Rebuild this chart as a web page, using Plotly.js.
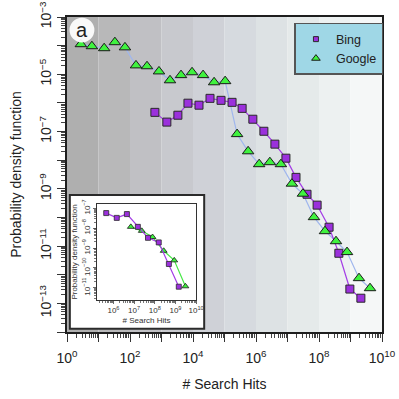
<!DOCTYPE html>
<html>
<head>
<meta charset="utf-8">
<script src="https://cdn.plot.ly/plotly-3.0.1.min.js"></script>
<style>
  html, body { margin: 0; padding: 0; background: #fff; }
  #chart { width: 399px; height: 399px; }
</style>
</head>
<body>
<div id="chart"></div>
<script>
'use strict';

// main panel, values as log10(hits), log10(pdf)
const bingLogHits = [2.79, 3.17, 3.52, 3.84, 4.19, 4.54, 4.89, 5.24, 5.56, 5.90,
    6.25, 6.60, 6.95, 7.27, 7.62, 7.94, 8.32, 8.63, 8.98, 9.33];
const bingLogPdf = [-6.33, -6.67, -6.43, -6.01, -6.08, -5.84, -5.91, -5.98, -6.19, -6.57,
    -6.99, -7.44, -7.93, -8.60, -9.19, -9.57, -10.34, -11.25, -12.50, -12.82];

const googleLogHits = [0.44, 0.79, 1.18, 1.52, 1.84, 2.19, 2.54, 2.92, 3.27, 3.62,
    3.97, 4.32, 4.67, 5.02, 5.40, 5.75, 6.10, 6.44, 6.79, 7.14,
    7.49, 7.84, 8.19, 8.54, 8.89, 9.27, 9.62];
const googleLogPdf = [-3.95, -4.02, -4.09, -3.88, -4.06, -4.69, -4.72, -4.90, -5.21, -5.03,
    -4.93, -5.03, -5.28, -5.24, -7.09, -7.69, -8.14, -8.07, -8.14, -8.82,
    -9.17, -9.99, -10.48, -10.83, -11.21, -12.12, -12.47];

// inset panel
const insetBingLogHits = [5.65, 6.16, 6.65, 7.18, 7.67, 8.19, 8.68, 9.16];
const insetBingLogPdf = [-7.25, -7.49, -7.30, -7.94, -8.49, -8.72, -9.80, -10.94];
const insetGoogleLogHits = [6.84, 7.37, 7.89, 8.43, 8.94, 9.48];
const insetGoogleLogPdf = [-7.94, -8.14, -8.45, -9.14, -9.62, -10.92];

// axis labels
const xLabelExp = [0, 2, 4, 6, 8, 10];
const yLabelExp = [-13, -11, -9, -7, -5, -3];
const insetXLabelExp = [6, 7, 8, 9, 10];
const insetYLabelExp = [-11, -10, -9, -8, -7];

const seriesNames = ['Bing', 'Google'];

// one shade per decade of the x axis
const bandColors = ['#afafaf', '#b8b8b9', '#c0c0c4', '#c8c9ce', '#cfd1d7',
    '#d6dadf', '#dde2e4', '#e5eaea', '#edf1f1', '#f5f7f7'];

const pow10 = v => Math.pow(10, v);
const sup = e => '10<sup>' + String(e).replace('-', '\u2212') + '</sup>';

function decadeTicks(lo, hi, labelled) {
    const vals = [], text = [], minor = [];
    for (let e = lo; e <= hi; e++) {
        vals.push(pow10(e));
        text.push(labelled.includes(e) ? sup(e) : '');
        if (e < hi) {
            for (let m = 2; m < 10; m++) minor.push(m * pow10(e));
        }
    }
    return { vals, text, minor };
}

const xt = decadeTicks(0, 10, xLabelExp);
const yt = decadeTicks(-14, -3, yLabelExp);
const ixt = decadeTicks(5, 10, insetXLabelExp);
const iyt = decadeTicks(-12, -6, insetYLabelExp);

const font = 'Liberation Sans, Arial, sans-serif';
const bingFill = '#9b30dc';
const googleFill = '#3ff23f';
const bingMarker = { symbol: 'square', color: bingFill, line: { color: '#2a2a2a', width: 1 } };
const googleMarker = { symbol: 'triangle-up', color: googleFill, line: { color: '#1a1a1a', width: 1 } };

const data = [
    {
        x: googleLogHits.map(pow10), y: googleLogPdf.map(pow10),
        mode: 'lines', line: { color: '#9fb6ee', width: 1.2 },
        showlegend: false, hoverinfo: 'none',
    },
    {
        x: bingLogHits.map(pow10), y: bingLogPdf.map(pow10),
        mode: 'lines', line: { color: '#a43ee6', width: 1.2 },
        showlegend: false, hoverinfo: 'none',
    },
    {
        x: bingLogHits.map(pow10), y: bingLogPdf.map(pow10),
        mode: 'markers', showlegend: false,
        marker: Object.assign({ size: 8 }, bingMarker),
    },
    {
        x: googleLogHits.map(pow10), y: googleLogPdf.map(pow10),
        mode: 'markers', showlegend: false,
        marker: Object.assign({ size: 10 }, googleMarker),
    },
    // legend entries (smaller symbols than on the plot)
    {
        name: seriesNames[0], x: [null], y: [null], mode: 'markers',
        marker: Object.assign({ size: 5 }, bingMarker),
    },
    {
        name: seriesNames[1], x: [null], y: [null], mode: 'markers',
        marker: Object.assign({ size: 7.5 }, googleMarker),
    },
    // inset
    {
        x: insetGoogleLogHits.map(pow10), y: insetGoogleLogPdf.map(pow10),
        xaxis: 'x2', yaxis: 'y2', mode: 'lines+markers',
        line: { color: '#48e848', width: 1.2 },
        marker: { symbol: 'triangle-up', size: 6, color: googleFill, line: { color: '#1a1a1a', width: 0.8 } },
        showlegend: false, hoverinfo: 'none',
    },
    {
        x: insetBingLogHits.map(pow10), y: insetBingLogPdf.map(pow10),
        xaxis: 'x2', yaxis: 'y2', mode: 'lines+markers',
        line: { color: '#a43ee6', width: 1.2 },
        marker: { symbol: 'square', size: 5, color: bingFill, line: { color: '#2a2a2a', width: 0.8 } },
        showlegend: false, hoverinfo: 'none',
    },
];

const shapes = bandColors.map((c, i) => ({
    type: 'rect', layer: 'below',
    xref: 'x', yref: 'y domain',
    x0: pow10(i), x1: pow10(i + 1), y0: 0, y1: 1,
    fillcolor: c, line: { width: 0 },
}));

// white box behind the inset
shapes.push({
    type: 'rect', layer: 'below',
    xref: 'x2 domain', yref: 'y2 domain',
    x0: -0.273, x1: 1.081, y0: -0.302, y1: 1.094,
    fillcolor: '#ffffff', line: { color: '#2b2b2b', width: 2 },
});

// panel letter badge
shapes.push({
    type: 'circle', layer: 'above',
    xref: 'paper', yref: 'paper',
    x0: 0.008, x1: 0.087, y0: 0.919, y1: 0.998,
    fillcolor: 'rgba(255,255,255,0.92)', line: { width: 0 },
});

const mainAxis = {
    type: 'log', showgrid: false, zeroline: false,
    showline: true, linecolor: '#1e1e1e', linewidth: 2, mirror: true,
    ticks: 'outside', ticklen: 8, tickwidth: 1, tickcolor: '#333',
    tickmode: 'array',
    tickfont: { family: font, size: 14, color: '#222' },
};

const insetAxis = {
    type: 'log', showgrid: false, zeroline: false,
    showline: true, linecolor: '#333', linewidth: 1, mirror: true,
    ticks: 'outside', ticklen: 3, tickwidth: 0.8, tickcolor: '#444',
    tickmode: 'array',
    tickfont: { family: font, size: 8, color: '#333' },
};

const layout = {
    width: 399, height: 399,
    margin: { l: 67, r: 17, t: 17, b: 67 },
    paper_bgcolor: '#ffffff', plot_bgcolor: '#ffffff',
    font: { family: font, color: '#222' },
    showlegend: true,
    legend: {
        x: 0.722, y: 0.981, xanchor: 'left', yanchor: 'top',
        bgcolor: '#9fd7e6', bordercolor: '#555', borderwidth: 1.5,
        font: { family: font, size: 12.5, color: '#222' },
        itemwidth: 30, tracegroupgap: 0,
    },
    xaxis: Object.assign({}, mainAxis, {
        range: [0, 10], tickvals: xt.vals, ticktext: xt.text,
        ticklabelstandoff: 4,
        minor: { tickvals: xt.minor, ticks: 'outside', ticklen: 4, tickcolor: '#444' },
        title: { text: '# Search Hits', font: { family: font, size: 14, color: '#222' }, standoff: 14 },
    }),
    yaxis: Object.assign({}, mainAxis, {
        range: [-14, -3], tickvals: yt.vals, ticktext: yt.text, tickangle: -90,
        minor: { tickvals: yt.minor, ticks: 'outside', ticklen: 4, tickcolor: '#444' },
        title: { text: 'Probability density function', font: { family: font, size: 14, color: '#222' }, standoff: 12 },
    }),
    xaxis2: Object.assign({}, insetAxis, {
        domain: [0.095, 0.41], anchor: 'y2',
        range: [5.2, 10], tickvals: ixt.vals, ticktext: ixt.text,
        minor: { tickvals: ixt.minor, ticks: 'outside', ticklen: 2, tickcolor: '#555' },
        title: { text: '# Search Hits', font: { family: font, size: 8, color: '#333' }, standoff: 2 },
    }),
    yaxis2: Object.assign({}, insetAxis, {
        domain: [0.102, 0.406], anchor: 'x2',
        range: [-11.6, -6.8], tickvals: iyt.vals, ticktext: iyt.text, tickangle: -90,
        minor: { tickvals: iyt.minor, ticks: 'outside', ticklen: 2, tickcolor: '#555' },
        title: { text: 'Probability density function', font: { family: font, size: 8, color: '#333' }, standoff: 2 },
    }),
    shapes: shapes,
    annotations: [{
        xref: 'paper', yref: 'paper', x: 0.0476, y: 0.9587,
        xanchor: 'center', yanchor: 'middle',
        text: 'a', showarrow: false,
        font: { family: font, size: 20, color: '#222' },
    }],
};

Plotly.newPlot('chart', data, layout, { staticPlot: true, displayModeBar: false });
</script>
</body>
</html>
